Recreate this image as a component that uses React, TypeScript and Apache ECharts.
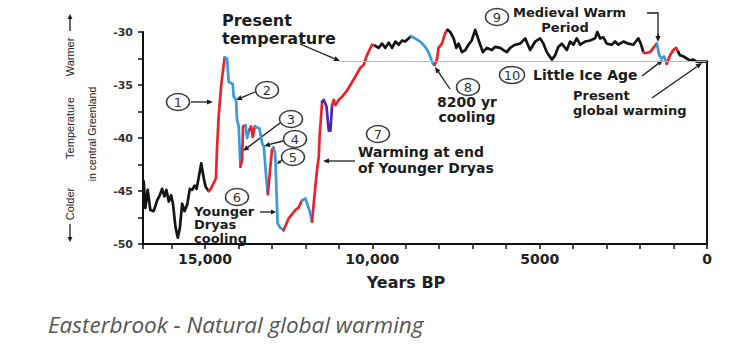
import React, { useEffect, useRef } from 'react';
import * as echarts from 'echarts';

const BLACK = '#141414';
const RED = '#e8232b';
const BLUE = '#3a98dc';
const PURPLE = '#4b26b0';
const PINK = '#f2a3a3';

// Years BP, temperature (°C) in central Greenland
const black1 = [[16830,-44.1],[16780,-46.6],[16710,-44.9],[16630,-46.8],[16530,-46.9],[16430,-45.9],[16350,-45.4],[16280,-44.8],[16210,-45.5],[16150,-44.9],[16080,-46.0],[16010,-45.4],[15950,-46.3],[15880,-48.4],[15810,-49.4],[15750,-48.5],[15680,-46.2],[15610,-46.9],[15530,-46.3],[15450,-44.8],[15380,-44.9],[15310,-44.5],[15250,-44.8],[15190,-43.8],[15110,-42.4],[15040,-43.7],[14980,-44.6],[14890,-45.0]];
const red1 = [[14890,-45.0],[14840,-44.9],[14670,-43.8],[14640,-41.1],[14590,-38.0],[14510,-34.9],[14410,-32.4]];
const blue1 = [[14410,-32.4],[14340,-32.5],[14290,-34.7],[14170,-34.9],[14140,-36.1],[14070,-36.4],[14040,-38.3],[13990,-38.9],[13940,-42.7]];
const red2 = [[13940,-42.7],[13890,-42.1],[13860,-38.9],[13790,-38.8]];
const blue2 = [[13790,-38.8],[13740,-40.0],[13670,-39.2]];
const red3 = [[13670,-39.2],[13620,-38.9],[13570,-39.9],[13510,-38.9]];
const blue3 = [[13510,-38.9],[13440,-39.0],[13370,-39.1],[13290,-40.5],[13240,-40.8],[13170,-43.7],[13120,-45.3]];
const red4 = [[13120,-45.3],[13045,-42.7],[12995,-41.1],[12950,-40.9]];
const blue4 = [[12950,-40.9],[12900,-41.5],[12830,-48.0],[12770,-48.4],[12650,-48.7]];
const red5 = [[12650,-48.7],[12500,-47.6],[12300,-46.8],[12210,-46.6],[12100,-45.9]];
const blue5 = [[12100,-45.9],[12000,-45.7],[11870,-46.9],[11800,-47.9]];
const red6 = [[11800,-47.9],[11750,-46.2],[11700,-44.6],[11650,-43.0],[11600,-41.8],[11570,-39.6],[11530,-38.0],[11500,-36.6]];
const purple1 = [[11500,-36.6],[11450,-36.4],[11370,-37.0],[11300,-39.3],[11250,-39.3],[11200,-36.9]];
const red7 = [[11200,-36.9],[11150,-36.4],[11100,-36.9],[11000,-36.4],[10900,-36.1],[10750,-35.5],[10560,-34.5],[10360,-33.4],[10260,-33.1],[10160,-32.2],[10010,-31.2],[9910,-31.3]];
const black2 = [[9910,-31.3],[9810,-31.5],[9710,-31.1],[9610,-31.5],[9510,-31.0],[9410,-31.5],[9310,-30.9],[9210,-31.2],[9110,-30.8],[9015,-30.9],[8845,-30.4]];
const blue6 = [[8845,-30.4],[8720,-30.6],[8570,-30.9],[8420,-31.4],[8320,-31.9],[8270,-32.3],[8190,-33.0],[8140,-33.1]];
const red8 = [[8140,-33.1],[8070,-32.6],[8020,-31.5],[7920,-31.1],[7820,-30.1],[7750,-29.8]];
const black3 = [[7750,-29.8],[7670,-30.0],[7570,-30.6],[7490,-31.5],[7420,-31.1],[7320,-31.9],[7220,-31.7],[7125,-31.2],[7030,-30.8],[6926,-29.8],[6776,-31.2],[6696,-31.9],[6576,-31.5],[6427,-31.7],[6328,-31.4],[6179,-31.5],[6080,-31.7],[5979,-31.9],[5880,-31.5],[5731,-31.2],[5582,-31.1],[5433,-30.6],[5283,-31.7],[5134,-30.9],[4985,-30.6],[4886,-31.1],[4785,-31.9],[4636,-32.6],[4537,-32.2],[4439,-31.4],[4337,-31.1],[4188,-31.7],[4089,-30.9],[3991,-31.2],[3889,-30.6],[3791,-31.2],[3642,-30.9],[3492,-30.8],[3343,-30.6],[3275,-30.0],[3194,-30.6],[3095,-30.5],[2994,-31.1],[2845,-31.2],[2746,-30.9],[2648,-31.2],[2498,-30.9],[2349,-31.1],[2200,-31.2],[2051,-30.6],[1979,-31.1],[1901,-31.9]];
const red9 = [[1901,-31.9],[1851,-32.0],[1701,-31.9],[1603,-31.5],[1501,-31.1]];
const blue7 = [[1501,-31.1],[1424,-32.2],[1352,-32.5],[1284,-32.3],[1203,-33.0]];
const red10 = [[1203,-33.0],[1104,-32.2],[1006,-31.7],[925,-31.5],[857,-31.9]];
const black4 = [[857,-31.9],[806,-32.2],[707,-32.3],[606,-32.5],[507,-32.7],[409,-32.6],[307,-32.8],[209,-32.8],[128,-32.8],[0,-32.8]];

const xLabelValues = [15000, 10000, 5000, 0];
const xLabelTexts = ['15,000', '10,000', '5000', '0'];
const presentTemp = -32.8;
const presentLineStart = 10950;

const FONT = 'DejaVu Sans';
const INK = '#1c1c1c';

function arrow(x1: number, y1: number, x2: number, y2: number, head = 6, w = 2.6): any[] {
  const a = Math.atan2(y2 - y1, x2 - x1);
  const bx = x2 - head * Math.cos(a);
  const by = y2 - head * Math.sin(a);
  const px = -Math.sin(a) * w;
  const py = Math.cos(a) * w;
  return [
    { type: 'line', shape: { x1, y1, x2: bx, y2: by }, style: { stroke: INK, lineWidth: 1.3 } },
    { type: 'polygon', shape: { points: [[x2, y2], [bx + px, by + py], [bx - px, by - py]] }, style: { fill: INK } },
  ];
}

function circled(cx: number, cy: number, label: string, rx = 11.5): any[] {
  return [
    { type: 'ellipse', shape: { cx, cy, rx, ry: 8.5 }, style: { fill: '#fff', stroke: '#3a3a3a', lineWidth: 1.5 } },
    { type: 'text', x: cx, y: cy + 0.5, style: { text: label, fontFamily: FONT, fontSize: 13, fill: '#333', align: 'center', verticalAlign: 'middle' } },
  ];
}

function label(x: number, y: number, text: string, align = 'left', size = 14): any {
  return { type: 'text', x, y, style: { text, fontFamily: FONT, fontWeight: 'bold', fontSize: size, fill: INK, align, verticalAlign: 'middle' } };
}

function rotText(x: number, y: number, text: string, size = 11): any {
  return { type: 'text', x, y, rotation: Math.PI / 2, style: { text, fontFamily: 'Liberation Sans', fontSize: size, fill: '#222', align: 'center', verticalAlign: 'middle' } };
}

export default function App() {
  const ref = useRef<HTMLDivElement>(null);
  useEffect(() => {
    const chart = echarts.init(ref.current!, null, { renderer: 'svg' });
    const segments = [
      { data: black1, color: BLACK }, { data: red1, color: RED }, { data: blue1, color: BLUE },
      { data: red2, color: RED }, { data: blue2, color: BLUE }, { data: red3, color: RED },
      { data: blue3, color: BLUE }, { data: red4, color: RED }, { data: blue4, color: BLUE },
      { data: red5, color: RED }, { data: blue5, color: BLUE }, { data: red6, color: RED },
      { data: purple1, color: PURPLE }, { data: red7, color: RED }, { data: black2, color: BLACK },
      { data: blue6, color: BLUE }, { data: red8, color: RED }, { data: black3, color: BLACK },
      { data: red9, color: RED }, { data: blue7, color: BLUE }, { data: red10, color: RED },
      { data: black4, color: BLACK },
    ];
    const series: any[] = [
      {
        type: 'line', data: [], silent: true,
        markLine: {
          symbol: 'none', silent: true, label: { show: false }, animation: false,
          data: [
            [{ coord: [presentLineStart, presentTemp], lineStyle: { color: PINK, width: 1, type: 'solid' } }, { coord: [0, presentTemp] }],
            [{ coord: [0, presentTemp], lineStyle: { color: BLACK, width: 2, type: 'solid' } }, { coord: [0, -50] }],
          ],
        },
      },
      ...segments.map((s) => ({
        type: 'line', data: s.data, showSymbol: false, clip: false, silent: true,
        lineStyle: { color: s.color, width: 2.7, join: 'round', cap: 'round' },
      })),
    ];

    const graphic: any[] = [
      // Axis titles
      rotText(70, 57, 'Warmer'),
      rotText(70, 128, 'Temperature'),
      rotText(70, 204, 'Colder'),
      rotText(92, 134, 'in central Greenland', 10.5),
      ...arrow(70, 31, 70, 14, 5, 2.5),
      ...arrow(70, 224, 70, 242, 5, 2.5),
      { type: 'text', x: 406, y: 282, style: { text: 'Years BP', fontFamily: FONT, fontWeight: 'bold', fontSize: 16, fill: '#222', align: 'center', verticalAlign: 'middle' } },
      // Present temperature
      label(222, 20, 'Present', 'left', 16),
      label(222, 38, 'temperature', 'left', 16),
      ...arrow(300, 44, 340, 61),
      // 1
      ...circled(178, 102, '1'),
      ...arrow(191, 102, 213, 102),
      // 2
      ...circled(267, 90, '2'),
      ...arrow(255, 92, 236, 100),
      // 3
      ...circled(291, 119, '3'),
      ...arrow(280, 123, 243, 151),
      // 4
      ...circled(295, 139, '4'),
      ...arrow(283, 141, 264, 146),
      // 5
      ...circled(293, 157, '5'),
      ...arrow(282, 160, 277, 164, 4, 2),
      // 6
      ...circled(237, 197, '6'),
      label(194, 211, 'Younger', 'left', 13),
      label(194, 224.5, 'Dryas', 'left', 13),
      label(194, 238, 'cooling', 'left', 13),
      ...arrow(260, 212, 276, 212, 5, 2.4),
      // 7
      ...circled(378, 134, '7'),
      label(358, 152, 'Warming at end'),
      label(358, 168, 'of Younger Dryas'),
      ...arrow(355, 161, 323, 161),
      // 8
      ...circled(468, 87, '8'),
      label(467, 102, '8200 yr', 'center'),
      label(467, 117, 'cooling', 'center'),
      ...arrow(450, 89, 435, 67),
      // 9
      ...circled(497, 17, '9'),
      label(513, 12, 'Medieval Warm', 'left', 13),
      label(565, 27.5, 'Period', 'center', 13),
      { type: 'polyline', shape: { points: [[647, 13], [658, 13], [658, 36]] }, style: { stroke: INK, lineWidth: 1.3, fill: null } },
      ...arrow(658, 34, 658, 42, 6, 2.6),
      // 10
      ...circled(512, 75, '10', 12.5),
      label(533, 75, 'Little Ice Age'),
      ...arrow(642, 76, 663, 60),
      // present global warming
      label(573, 95.5, 'Present', 'left', 13),
      label(573, 110.5, 'global warming', 'left', 13),
      ...arrow(652, 98, 702, 63),
      // caption
      { type: 'text', x: 48, y: 324, style: { text: 'Easterbrook - Natural global warming', fontFamily: 'Open Sans', fontStyle: 'italic', fontSize: 22.5, fill: '#555', align: 'left', verticalAlign: 'middle' } },
    ];

    chart.setOption({
      animation: false,
      backgroundColor: '#fff',
      grid: { left: 143, right: 45, top: 32, bottom: 109 },
      xAxis: {
        type: 'value', min: 0, max: 16850, inverse: true, interval: 1000,
        axisLine: { onZero: false, lineStyle: { color: '#111', width: 2 } },
        axisTick: { show: true, length: 5, lineStyle: { color: '#111', width: 1.5 } },
        axisLabel: {
          margin: 8, fontFamily: FONT, fontWeight: 'bold', fontSize: 14, color: '#222',
          showMinLabel: true, showMaxLabel: true,
          formatter: (v: number) => { const i = xLabelValues.indexOf(v); return i >= 0 ? xLabelTexts[i] : ''; },
        },
        splitLine: { show: false },
      },
      yAxis: {
        type: 'value', min: -50, max: -30, interval: 2.5,
        axisLine: { show: true, onZero: false, lineStyle: { color: '#111', width: 2 } },
        axisTick: { show: true, length: 5, lineStyle: { color: '#111', width: 1.5 } },
        axisLabel: {
          margin: 10, fontFamily: FONT, fontWeight: 'bold', fontSize: 11, color: '#333',
          formatter: (v: number) => (Math.abs(v % 5) < 1e-9 ? String(v) : ''),
        },
        splitLine: { show: false },
      },
      series,
      graphic,
    });
    return () => chart.dispose();
  }, []);
  return <div ref={ref} style={{ position: 'fixed', left: 0, top: 0, width: 752, height: 353, background: '#fff' }} />;
}
